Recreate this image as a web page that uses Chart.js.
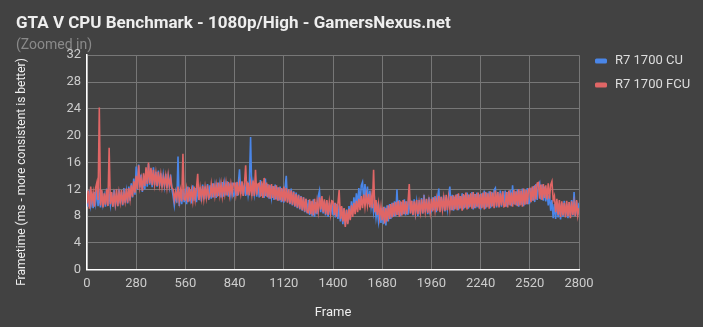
<!DOCTYPE html>
<html>
<head>
<meta charset="utf-8">
<script src="https://cdn.jsdelivr.net/npm/chart.js@4/dist/chart.umd.min.js"></script>
<style>
  body { margin: 0; background: #424242; }
  canvas { display: block; }
</style>
</head>
<body>
<canvas id="chart" width="703" height="327"></canvas>
<script>
const frameStep = 7;
const frames = [];
for (let f = 0; f <= 2800; f += frameStep) frames.push(f);

const seriesNames = ['R7 1700 CU', 'R7 1700 FCU'];
const yTitle = 'Frametime (ms - more consistent is better)';

// frametimes (ms), one value every 7 frames, one row = 140 frames
const cuValues = [
  11.4, 9.4, 11.9, 9.6, 10.8, 9.2, 11.6, 10.0, 12.0, 9.5, 11.2, 9.3, 11.7, 9.8, 11.0, 9.4, 12.1, 9.6, 11.3, 9.7,
  11.5, 9.4, 11.9, 9.8, 11.2, 9.5, 12.0, 9.9, 11.6, 9.6, 12.2, 10.0, 11.7, 9.9, 12.4, 10.3, 12.9, 10.8, 13.6, 11.2,
  15.4, 11.9, 15.7, 12.3, 14.2, 11.6, 13.5, 12.0, 15.0, 12.4, 15.8, 12.7, 14.9, 12.3, 15.3, 12.6, 14.6, 12.4, 14.8, 12.5,
  14.4, 12.3, 14.1, 12.5, 14.3, 12.2, 13.9, 12.4, 14.2, 12.1, 11.0, 9.6, 11.4, 10.0, 16.9, 9.5, 11.6, 9.8, 11.9, 10.1,
  12.1, 9.8, 12.4, 10.2, 12.0, 9.9, 12.6, 10.3, 12.2, 10.1, 12.5, 10.4, 12.3, 10.2, 12.7, 10.5, 12.4, 10.6, 12.8, 10.4,
  12.6, 10.6, 12.9, 10.8, 12.5, 10.7, 13.0, 11.0, 12.7, 10.8, 13.1, 10.9, 12.8, 11.1, 13.2, 10.9, 12.9, 11.2, 13.0, 11.0,
  11.2, 13.0, 11.0, 12.8, 15.0, 11.3, 13.1, 11.1, 12.9, 11.0, 13.2, 11.2, 12.7, 19.8, 11.0, 12.9, 11.3, 13.1, 10.9, 12.8,
  10.8, 13.4, 11.0, 12.9, 10.7, 13.6, 10.9, 12.8, 10.6, 12.6, 10.8, 12.5, 10.4, 12.7, 10.5, 12.3, 10.3, 12.4, 10.1, 12.1,
  10.0, 12.2, 14.0, 10.1, 12.0, 9.8, 12.1, 9.6, 11.7, 9.4, 11.5, 9.2, 11.2, 9.0, 11.0, 8.8, 10.8, 8.6, 10.6, 8.4,
  10.4, 8.2, 10.2, 8.0, 10.5, 7.9, 10.1, 8.3, 11.0, 11.8, 8.6, 10.6, 8.4, 10.3, 8.1, 10.2, 7.9, 10.0, 8.2, 10.1,
  8.1, 10.0, 7.8, 9.8, 7.6, 9.6, 7.2, 9.3, 6.8, 9.1, 6.6, 9.0, 7.0, 9.5, 7.6, 10.2, 8.4, 10.8, 9.0, 11.4,
  9.6, 12.2, 10.0, 12.6, 13.1, 10.4, 12.8, 10.2, 12.4, 9.8, 11.8, 9.4, 10.8, 8.6, 10.0, 7.8, 9.2, 7.2, 8.8, 7.0,
  9.2, 6.8, 9.4, 6.6, 9.6, 7.2, 9.8, 7.6, 10.0, 7.9, 10.2, 8.0, 12.0, 8.2, 10.4, 8.0, 10.1, 8.3, 10.5, 8.1,
  10.2, 8.2, 10.6, 8.4, 10.3, 8.1, 10.5, 8.5, 10.1, 8.0, 10.4, 8.3, 10.7, 8.4, 11.2, 8.6, 10.5, 8.3, 10.8, 8.5,
  8.7, 10.8, 8.9, 11.0, 8.6, 10.7, 12.1, 9.0, 10.9, 8.8, 11.1, 8.7, 10.8, 9.1, 11.0, 12.4, 8.9, 11.2, 8.8, 10.9,
  9.1, 11.3, 8.9, 11.0, 9.2, 11.4, 9.0, 11.1, 9.3, 11.5, 9.1, 11.2, 9.4, 11.6, 9.0, 11.3, 9.2, 11.5, 9.3, 11.2,
  9.0, 11.4, 9.3, 11.8, 9.1, 11.5, 9.4, 11.7, 9.2, 11.6, 9.5, 11.9, 12.2, 9.3, 11.6, 9.5, 11.8, 9.4, 11.7, 9.6,
  11.8, 9.4, 11.6, 9.7, 11.9, 9.5, 12.6, 9.8, 11.7, 9.6, 12.0, 9.4, 11.8, 9.7, 12.1, 9.5, 11.9, 9.8, 12.2, 9.9,
  10.0, 12.2, 10.3, 12.5, 10.1, 12.8, 10.4, 12.6, 13.0, 10.5, 12.7, 10.3, 12.4, 10.2, 12.1, 9.6, 11.2, 8.8, 10.4, 7.7,
  9.8, 7.6, 10.2, 7.8, 9.9, 7.5, 10.0, 7.9, 10.3, 8.0, 9.8, 7.7, 10.1, 7.9, 10.4, 8.1, 11.6, 8.0, 10.2, 8.2,
  10.0
];

const fcuValues = [
  9.9, 11.8, 9.1, 12.4, 10.2, 11.5, 9.4, 12.2, 13.0, 10.4, 24.2, 9.6, 11.9, 9.3, 11.4, 9.7, 12.0, 9.5, 18.2, 9.8,
  11.6, 9.4, 11.2, 9.8, 12.0, 9.5, 11.5, 10.1, 11.9, 9.7, 11.4, 10.2, 12.1, 10.0, 12.2, 10.6, 12.6, 10.9, 13.2, 11.5,
  14.0, 12.0, 15.6, 12.4, 13.6, 11.8, 14.4, 12.5, 15.3, 12.8, 16.0, 12.9, 15.2, 12.6, 14.9, 12.8, 14.4, 12.5, 14.6, 12.7,
  14.2, 12.4, 13.8, 12.6, 14.0, 12.3, 14.1, 12.5, 13.6, 12.2, 12.0, 10.4, 11.6, 10.6, 12.4, 10.3, 11.8, 10.2, 17.3, 10.5,
  10.4, 12.0, 10.1, 12.3, 10.6, 11.9, 10.3, 12.4, 10.5, 12.1, 14.3, 10.4, 12.2, 10.7, 12.5, 10.6, 12.3, 10.8, 12.6, 10.7,
  11.0, 12.7, 10.8, 12.9, 11.1, 12.6, 10.9, 13.0, 11.2, 12.8, 11.0, 12.7, 11.3, 12.9, 11.1, 13.1, 11.2, 12.8, 11.4, 12.9,
  12.9, 11.3, 13.1, 11.1, 12.8, 11.4, 13.2, 11.0, 12.7, 15.6, 11.2, 13.0, 11.1, 12.9, 11.3, 13.3, 11.0, 14.9, 11.2, 12.8,
  12.9, 10.9, 13.2, 10.7, 13.7, 11.0, 13.0, 10.8, 12.7, 10.6, 12.8, 10.7, 12.5, 10.5, 12.6, 10.3, 12.3, 10.4, 12.2, 10.2,
  12.4, 10.2, 12.2, 10.0, 12.0, 9.9, 11.8, 9.7, 11.6, 9.5, 11.3, 9.3, 11.1, 9.1, 10.9, 8.9, 10.8, 8.7, 10.6, 8.6,
  8.5, 10.5, 8.3, 10.3, 8.1, 10.6, 8.4, 10.2, 8.7, 10.8, 9.0, 11.0, 8.6, 10.5, 8.3, 10.4, 8.2, 10.1, 8.4, 10.3,
  10.2, 8.2, 10.0, 7.9, 9.8, 11.9, 7.6, 9.5, 7.2, 9.2, 6.4, 8.9, 6.8, 9.1, 7.4, 9.6, 7.9, 10.0, 8.3, 10.3,
  8.6, 10.6, 8.9, 11.0, 9.2, 11.2, 9.4, 11.1, 9.6, 11.3, 9.3, 11.0, 9.2, 14.9, 8.6, 10.4, 8.2, 9.8, 7.8, 9.4,
  7.4, 9.4, 6.9, 9.2, 7.2, 9.6, 7.6, 9.8, 7.8, 10.0, 8.0, 10.1, 8.2, 10.3, 7.9, 10.2, 8.1, 10.4, 8.3, 10.2,
  8.3, 10.1, 12.8, 8.4, 10.3, 8.2, 10.2, 8.5, 10.4, 8.3, 10.0, 8.6, 10.5, 8.4, 10.3, 8.7, 10.6, 8.5, 10.2, 8.6,
  10.6, 8.7, 10.8, 8.9, 10.5, 8.8, 11.0, 8.6, 10.9, 9.0, 10.7, 8.8, 11.2, 8.9, 10.8, 9.1, 11.0, 8.9, 11.1, 9.0,
  11.2, 8.9, 11.4, 9.1, 11.0, 8.8, 11.3, 9.2, 11.5, 9.0, 11.2, 9.3, 11.4, 9.1, 11.6, 9.2, 11.3, 9.4, 11.5, 9.1,
  11.3, 9.2, 11.5, 9.0, 11.6, 9.3, 11.4, 9.1, 11.7, 9.4, 11.5, 9.2, 11.8, 9.5, 11.6, 9.3, 11.4, 9.6, 11.7, 9.4,
  9.5, 11.6, 9.3, 11.8, 9.6, 11.5, 9.4, 11.9, 9.7, 11.7, 9.5, 12.0, 9.6, 11.8, 9.4, 12.1, 9.7, 11.9, 9.8, 12.0,
  12.1, 10.1, 12.4, 10.3, 12.6, 10.5, 12.9, 13.0, 10.6, 12.7, 10.4, 12.8, 10.7, 12.6, 10.5, 12.9, 10.6, 12.7, 13.2, 10.4,
  11.0, 8.6, 10.6, 8.2, 10.4, 7.9, 10.2, 8.1, 10.0, 7.8, 10.3, 8.0, 10.1, 7.7, 10.2, 8.2, 9.9, 8.0, 10.4, 8.1,
  9.2
];

const xTickStep = 280;
const yTickStep = 4;

function toPoints(values) {
  return values.map((v, i) => ({ x: frames[i], y: v }));
}

// y axis title and legend are drawn by hand so they sit where the original puts them
const overlay = {
  id: 'overlay',
  afterDraw(chart) {
    const c = chart.ctx;
    c.save();
    c.translate(22, 172);
    c.rotate(-Math.PI / 2);
    c.fillStyle = '#eeeeee';
    c.font = '12px Roboto';
    c.textAlign = 'center';
    c.textBaseline = 'middle';
    c.fillText(yTitle, 0, 0);
    c.restore();

    c.save();
    chart.data.datasets.forEach((ds, i) => {
      const y = 61 + i * 24;
      c.fillStyle = ds.borderColor;
      c.beginPath();
      c.roundRect(595, y - 2.5, 12, 5, 1.5);
      c.fill();
      c.fillStyle = '#dddddd';
      c.font = '13px Roboto';
      c.textAlign = 'left';
      c.textBaseline = 'middle';
      c.fillText(ds.label, 615, y);
    });
    c.restore();
  }
};

const ctx = document.getElementById('chart').getContext('2d');

window.benchChart = new Chart(ctx, {
  type: 'line',
  data: {
    datasets: [{
      label: seriesNames[0],
      data: toPoints(cuValues),
      borderColor: '#4a86e8',
      backgroundColor: '#4a86e8',
      borderWidth: 1.6,
      pointRadius: 0,
      order: 1
    }, {
      label: seriesNames[1],
      data: toPoints(fcuValues),
      borderColor: '#e06666',
      backgroundColor: '#e06666',
      borderWidth: 1.6,
      pointRadius: 0,
      order: 0
    }]
  },
  options: {
    responsive: false,
    animation: false,
    devicePixelRatio: 1,
    layout: { padding: { left: 16, right: 124, top: 14, bottom: 6 } },
    plugins: {
      title: {
        display: true,
        text: 'GTA V CPU Benchmark - 1080p/High - GamersNexus.net',
        align: 'start',
        color: '#eeeeee',
        font: { family: 'Roboto', size: 17, weight: 'bold' },
        padding: { top: 0, bottom: 3 }
      },
      subtitle: {
        display: true,
        text: '(Zoomed in)',
        align: 'start',
        color: '#8a8a8a',
        font: { family: 'Roboto', size: 14 },
        padding: { top: 0, bottom: 1 }
      },
      legend: { display: false },
      tooltip: { enabled: false }
    },
    scales: {
      x: {
        type: 'linear',
        min: 0,
        max: 2800,
        ticks: {
          stepSize: xTickStep,
          color: '#cccccc',
          font: { family: 'Roboto', size: 13 },
          padding: 6,
          maxRotation: 0,
          callback: v => String(v)
        },
        grid: { color: '#777777', drawTicks: false },
        border: { color: '#ffffff', width: 1.5 },
        title: {
          display: true,
          text: 'Frame',
          color: '#eeeeee',
          font: { family: 'Roboto', size: 13 },
          padding: { top: 8, bottom: 0 }
        }
      },
      y: {
        min: 0,
        max: 32,
        afterFit: scale => { scale.width = 71; },
        ticks: {
          stepSize: yTickStep,
          color: '#cccccc',
          font: { family: 'Roboto', size: 13 },
          padding: 6
        },
        grid: { color: '#777777', drawTicks: false },
        border: { color: '#ffffff', width: 1.5 }
      }
    }
  },
  plugins: [overlay]
});
</script>
</body>
</html>
